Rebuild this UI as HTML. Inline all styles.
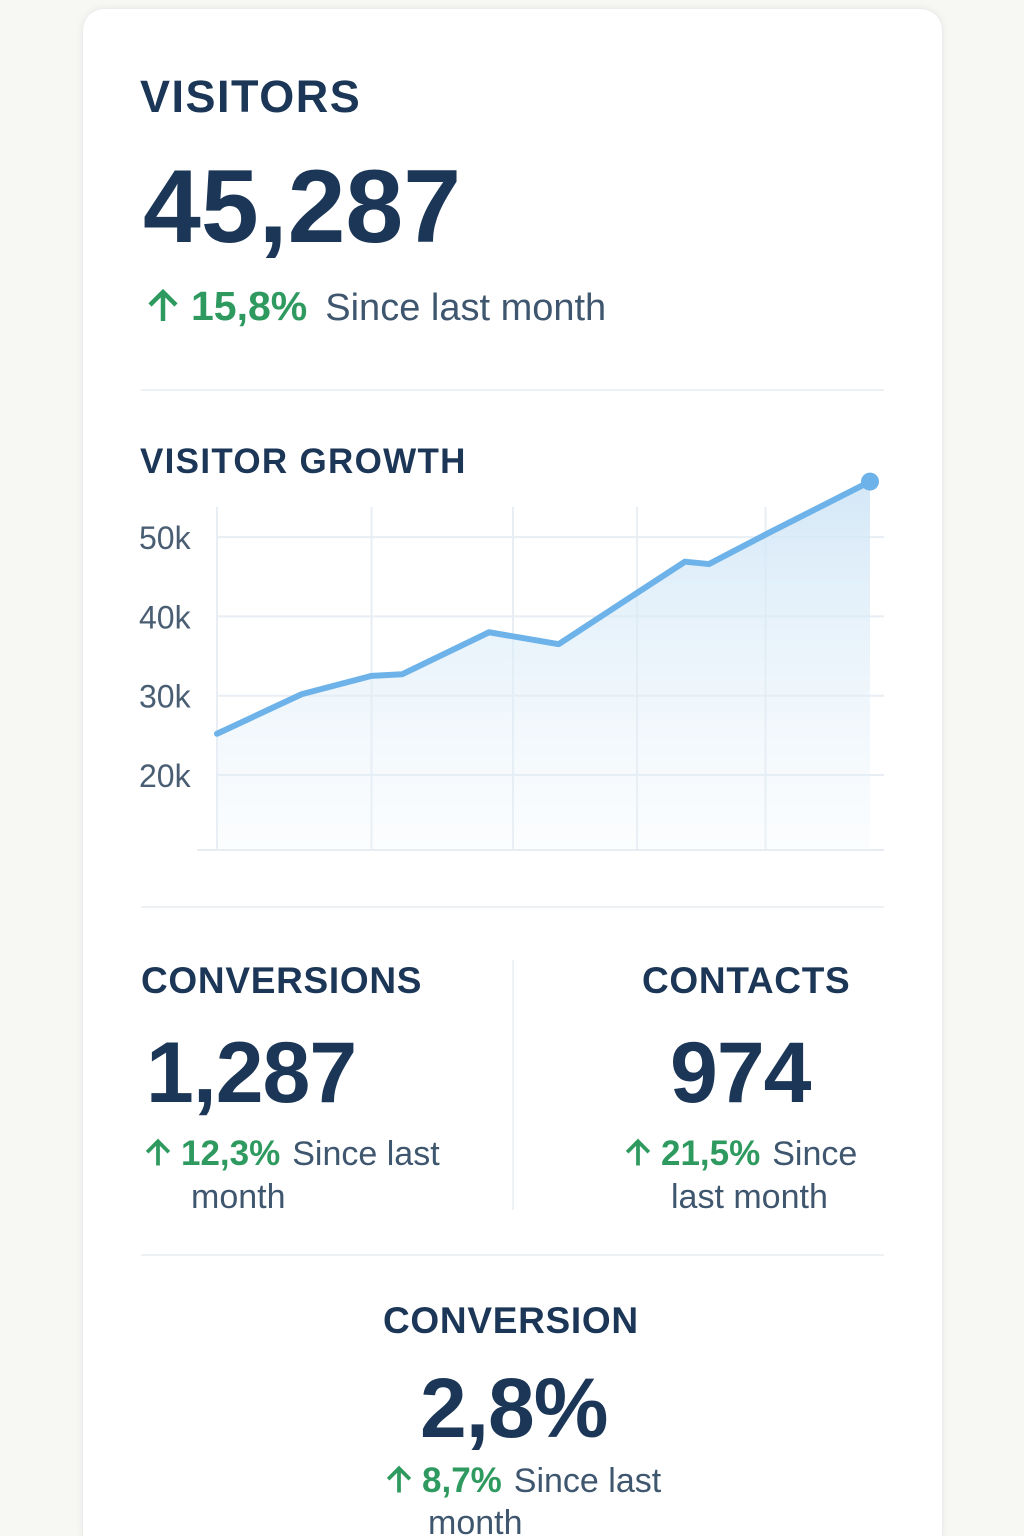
<!DOCTYPE html>
<html><head><meta charset="utf-8"><style>
html,body{margin:0;padding:0;width:1024px;height:1536px;overflow:hidden;background:#f7f7f4;font-family:"Liberation Sans",sans-serif;position:relative;}
.card{position:absolute;left:82px;top:8px;width:861px;height:1528px;background:#fff;border-radius:22px 22px 0 0;box-shadow:0 0 8px rgba(0,0,0,0.06);border:1px solid #ececec;border-bottom:none;box-sizing:border-box;}
.abs{position:absolute;white-space:nowrap;line-height:1;}
.title{color:#1b3656;font-weight:bold;}
.big{color:#1b3656;font-weight:bold;letter-spacing:-1px;}
.green{color:#2f9a5f;font-weight:bold;}
.gray{color:#3f566f;}
.div{position:absolute;height:2px;background:#edf1f4;}
</style></head><body>
<div class="card"></div>

<div class="abs title" style="left:140px;top:74px;font-size:45px;letter-spacing:1.5px;">VISITORS</div>
<div class="abs big" style="left:143px;top:155px;font-size:104px;letter-spacing:0;">45,287</div>
<div class="abs" style="left:145px;top:286px;font-size:41px;">
<svg width="36" height="36" viewBox="0 0 36 36" style="vertical-align:-4px"><path d="M18 33V5M5 17L18 4L31 17" stroke="#2f9a5f" stroke-width="4.5" fill="none"/></svg><span class="green" style="margin-left:10px;">15,8%</span><span class="gray" style="font-size:38px;margin-left:18px;">Since last month</span></div>

<div class="div" style="left:141px;top:389px;width:743px;"></div>

<div class="abs title" style="left:140px;top:444px;font-size:35px;letter-spacing:1.3px;">VISITOR GROWTH</div>

<svg id="chart" class="abs" style="left:0;top:0" width="1024" height="900">
<defs><linearGradient id="fillg" x1="0" y1="0" x2="0" y2="1"><stop offset="0" stop-color="#cfe5f6" stop-opacity="0.9"/><stop offset="1" stop-color="#eaf4fb" stop-opacity="0.2"/></linearGradient></defs>
<g id="grid"></g><g id="marks"></g><g id="labels"></g>
</svg>

<div class="div" style="left:141px;top:906px;width:743px;"></div>

<div class="abs title" style="left:141px;top:962px;font-size:37px;letter-spacing:0.7px;">CONVERSIONS</div>
<div class="abs big" style="left:146px;top:1030px;font-size:86px;">1,287</div>
<div class="abs" style="left:143px;top:1136px;font-size:35px;">
<svg width="30" height="30" viewBox="0 0 36 36" style="vertical-align:-3px"><path d="M18 33V5M5 17L18 4L31 17" stroke="#2f9a5f" stroke-width="4.5" fill="none"/></svg><span class="green" style="margin-left:8px;">12,3%</span><span class="gray" style="font-size:34px;margin-left:12px;">Since last</span></div>
<div class="abs gray" style="left:191px;top:1180px;font-size:34px;">month</div>

<div style="position:absolute;left:512px;top:960px;width:2px;height:250px;background:#eef2f5;"></div>

<div class="abs title" style="left:642px;top:962px;font-size:37px;letter-spacing:0.7px;">CONTACTS</div>
<div class="abs big" style="left:670px;top:1030px;font-size:86px;">974</div>
<div class="abs" style="left:623px;top:1136px;font-size:35px;">
<svg width="30" height="30" viewBox="0 0 36 36" style="vertical-align:-3px"><path d="M18 33V5M5 17L18 4L31 17" stroke="#2f9a5f" stroke-width="4.5" fill="none"/></svg><span class="green" style="margin-left:8px;">21,5%</span><span class="gray" style="font-size:34px;margin-left:12px;">Since</span></div>
<div class="abs gray" style="left:671px;top:1180px;font-size:34px;">last month</div>

<div class="div" style="left:141px;top:1254px;width:743px;"></div>

<div class="abs title" style="left:383px;top:1302px;font-size:37px;letter-spacing:0.7px;">CONVERSION</div>
<div class="abs big" style="left:420px;top:1366px;font-size:84px;">2,8%</div>
<div class="abs" style="left:384px;top:1463px;font-size:35px;">
<svg width="30" height="30" viewBox="0 0 36 36" style="vertical-align:-3px"><path d="M18 33V5M5 17L18 4L31 17" stroke="#2f9a5f" stroke-width="4.5" fill="none"/></svg><span class="green" style="margin-left:8px;">8,7%</span><span class="gray" style="font-size:34px;margin-left:12px;">Since last</span></div>
<div class="abs gray" style="left:428px;top:1506px;font-size:34px;">month</div>

<script>
const days = [0, 3.9, 7.1, 8.5, 12.5, 15.7, 18.2, 21.5, 22.6, 25.4, 30];
const visitors = [25.2, 30.2, 32.5, 32.7, 38.0, 36.5, 41.0, 46.9, 46.6, 50.6, 57.0];
const yTicks = [20, 30, 40, 50];
const yTickLabels = ["20k", "30k", "40k", "50k"];
const xGridDays = [0, 7.1, 13.6, 19.3, 25.2];

const NS = "http://www.w3.org/2000/svg";
const x = d => 217 + d / 30 * 653;
const y = v => 775 - (v - 20) * 7.93;
const grid = document.getElementById('grid'), marks = document.getElementById('marks'), labels = document.getElementById('labels');
function mk(tag, attrs, parent){const e=document.createElementNS(NS,tag);for(const k in attrs)e.setAttribute(k,attrs[k]);parent.appendChild(e);return e;}

xGridDays.forEach(d => {
  const l = mk('line', {x1:x(d), x2:x(d), y1:507, y2:850, stroke:'#e8eef3', 'stroke-width':2}, grid);
  
  
});
yTicks.forEach((t, i) => {
  const l = mk('line', {x1:217, x2:884, y1:y(t), y2:y(t), stroke:'#e8eef3', 'stroke-width':2}, grid);
  
  
  const tx = mk('text', {x:139, y:y(t)+12, 'font-size':32, fill:'#4a5e73', 'font-family':'Liberation Sans, sans-serif'}, labels);
  tx.textContent = yTickLabels[i];
  
  
});
const base = mk('line', {x1:197, x2:884, y1:850, y2:850, stroke:'#e6ecf1', 'stroke-width':2}, grid);



const pts = days.map((d, i) => x(d) + ',' + y(visitors[i]));
const area = mk('polygon', {points: x(days[0]) + ',850 ' + pts.join(' ') + ' ' + x(days[days.length-1]) + ',850', fill:'url(#fillg)'}, marks);


const line = mk('polyline', {points: pts.join(' '), fill:'none', stroke:'#6db3ea', 'stroke-width':6, 'stroke-linejoin':'round', 'stroke-linecap':'round'}, marks);


const li = days.length - 1;
const dot = mk('circle', {cx:x(days[li]), cy:y(visitors[li]), r:9, fill:'#6db3ea'}, marks);


</script>
</body></html>
